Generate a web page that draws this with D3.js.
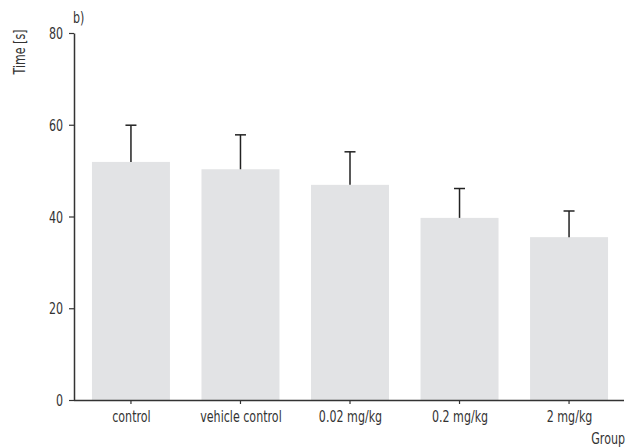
<!DOCTYPE html>
<html>
<head>
<meta charset="utf-8">
<script src="https://cdn.jsdelivr.net/npm/d3@7"></script>
<style>
  body { margin: 0; background: #fff; }
  text { font-family: "DejaVu Sans", sans-serif; fill: #333; }
</style>
</head>
<body>
<svg id="chart"></svg>
<script>
const groups = ['control', 'vehicle control', '0.02 mg/kg', '0.2 mg/kg', '2 mg/kg'];
const means = [51.9, 50.3, 46.9, 39.7, 35.5];
const errors = [8.0, 7.5, 7.2, 6.4, 5.7];
const yTicks = [0, 20, 40, 60, 80];

const width = 636;
const height = 448;
const axisX = 74;
const baseY = 400;
const topY = 33;
const fontSize = 15;
const squeeze = 0.74; // no condensed font installed, so narrow the glyphs

const data = groups.map((group, i) => ({group, mean: means[i], err: errors[i]}));

const xScale = d3.scaleBand()
  .domain(groups)
  .range([axisX, 626])
  .paddingInner(0.288)
  .paddingOuter(0.164);

const yScale = d3.scaleLinear()
  .domain([0, 80])
  .range([baseY, topY]);

const chart = d3.select('#chart')
  .attr('width', width)
  .attr('height', height);

chart.selectAll('rect.bar')
  .data(data)
  .enter()
  .append('rect')
  .attr('class', 'bar')
  .attr('x', d => xScale(d.group))
  .attr('y', d => yScale(d.mean))
  .attr('width', xScale.bandwidth())
  .attr('height', d => baseY - yScale(d.mean))
  .attr('fill', '#e2e3e5');

const err = chart.selectAll('g.err')
  .data(data)
  .enter()
  .append('g')
  .attr('class', 'err')
  .attr('transform', d => `translate(${xScale(d.group) + xScale.bandwidth() / 2}, 0)`);

err.append('line')
  .attr('y1', d => yScale(d.mean))
  .attr('y2', d => yScale(d.mean + d.err))
  .attr('stroke', '#222')
  .attr('stroke-width', 1.5);

err.append('line')
  .attr('x1', -5.5)
  .attr('x2', 5.5)
  .attr('y1', d => yScale(d.mean + d.err))
  .attr('y2', d => yScale(d.mean + d.err))
  .attr('stroke', '#222')
  .attr('stroke-width', 1.5);

const xAxis = chart.append('g')
  .attr('transform', `translate(0, ${baseY})`)
  .call(d3.axisBottom(xScale).tickSize(4).tickSizeOuter(0));

const yAxis = chart.append('g')
  .attr('transform', `translate(${axisX}, 0)`)
  .call(d3.axisLeft(yScale).tickValues(yTicks).tickSize(5).tickSizeOuter(0));

[xAxis, yAxis].forEach(axis => {
  axis.select('.domain').attr('stroke', '#333').attr('stroke-width', 1.5);
  axis.selectAll('.tick line').attr('stroke', '#333').attr('stroke-width', 1.2);
  axis.selectAll('.tick text')
    .attr('font-family', null)
    .attr('font-size', fontSize)
    .attr('fill', '#333');
});
xAxis.selectAll('.tick text')
  .attr('x', 0)
  .attr('y', 0)
  .attr('dy', null)
  .attr('transform', `translate(0.5, 22) scale(${squeeze}, 1)`);
yAxis.selectAll('.tick text')
  .attr('x', 0)
  .attr('dy', null)
  .attr('transform', `translate(-11, 5.5) scale(${squeeze}, 1)`);
// x axis line starts at the y axis
xAxis.select('.domain').attr('d', `M${axisX},0.5H624`);

const label = (x, y, text, anchor, rotate) => chart.append('text')
  .attr('transform', `translate(${x}, ${y})${rotate ? ' rotate(-90)' : ''} scale(${squeeze}, 1)`)
  .attr('text-anchor', anchor)
  .attr('font-size', fontSize)
  .text(text);

label(25, 52, 'Time [s]', 'middle', true);
label(73, 23, 'b)', 'start', false);
label(625, 444, 'Group', 'end', false);
</script>
</body>
</html>
